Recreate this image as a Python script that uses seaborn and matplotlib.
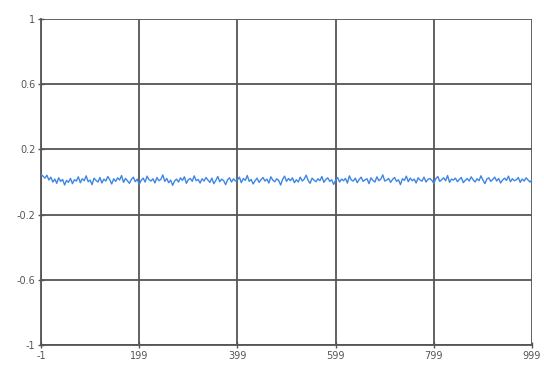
import matplotlib
matplotlib.use("Agg")
import matplotlib.pyplot as plt
import seaborn as sns
import pandas as pd

# Sample positions (every 4th sample from -1 to 999) and the measured signal
sample_index = list(range(-1, 1000, 4))
signal = [
    0.048, 0.036, 0.024, 0.042, 0.012, 0.030, 0.000, 0.018, -0.008, 0.026,
    0.004, 0.016, -0.018, 0.010, -0.002, 0.022, -0.010, 0.014, 0.006, 0.032,
    -0.004, 0.020, 0.008, 0.038, 0.002, 0.012, -0.016, 0.024, 0.010, 0.000,
    0.028, -0.006, 0.018, 0.006, 0.034, 0.014, -0.012, 0.020, 0.004, 0.026,
    0.012, 0.040, -0.002, 0.022, 0.008, -0.008, 0.016, 0.030, 0.002, 0.018,
    -0.014, 0.010, 0.024, 0.000, 0.036, 0.014, 0.006, 0.020, -0.006, 0.028,
    0.008, 0.016, 0.044, 0.004, 0.022, -0.004, 0.012, -0.020, 0.006, 0.018,
    0.000, 0.026, 0.010, 0.032, -0.008, 0.014, 0.022, 0.004, 0.038, 0.008,
    0.016, -0.006, 0.020, 0.006, 0.028, 0.012, -0.002, 0.024, -0.010, 0.010,
    0.034, 0.002, 0.018, 0.008, -0.016, 0.014, 0.026, 0.000, 0.020, 0.006,
    0.012, 0.030, -0.004, 0.022, 0.010, 0.040, 0.004, 0.016, -0.012, 0.008,
    0.024, -0.002, 0.014, 0.028, 0.006, 0.018, -0.006, 0.032, 0.012, 0.002,
    0.020, 0.010, -0.018, 0.016, 0.036, 0.004, 0.022, 0.008, 0.026, -0.004,
    0.014, 0.000, 0.030, 0.006, 0.018, 0.042, 0.010, -0.008, 0.024, 0.012,
    0.002, 0.020, 0.008, 0.034, -0.002, 0.016, 0.026, 0.004, 0.014, -0.014,
    0.010, 0.028, 0.000, 0.018, 0.008, 0.022, -0.006, 0.038, 0.012, 0.006,
    0.024, -0.004, 0.016, 0.030, 0.004, 0.014, 0.020, -0.010, 0.026, 0.010,
    0.000, 0.032, 0.008, 0.018, 0.044, 0.006, 0.012, 0.022, -0.002, 0.016,
    0.028, 0.004, 0.014, -0.016, 0.020, 0.010, 0.036, 0.002, 0.024, 0.008,
    0.018, -0.006, 0.026, 0.012, 0.006, 0.030, 0.000, 0.016, 0.022, 0.010,
    -0.008, 0.020, 0.034, 0.004, 0.014, 0.026, 0.008, 0.040, -0.002, 0.018,
    0.012, 0.024, 0.002, 0.016, 0.028, -0.004, 0.010, 0.022, 0.006, 0.032,
    0.014, 0.000, 0.020, 0.008, 0.038, 0.012, -0.010, 0.018, 0.026, 0.004,
    0.016, 0.030, 0.006, 0.022, -0.006, 0.012, 0.024, 0.010, 0.036, 0.002,
    0.020, 0.008, 0.014, 0.028, -0.002, 0.018, 0.006, 0.026, 0.012, 0.000,
    0.016,
]

x_ticks = [-1, 199, 399, 599, 799, 999]
y_ticks = [-1, -0.6, -0.2, 0.2, 0.6, 1]
y_tick_labels = ["-1", "-0.6", "-0.2", "0.2", "0.6", "1"]

df = pd.DataFrame({"sample": sample_index, "value": signal})

sns.set_theme(style="white")
plt.rcParams["font.family"] = ["DejaVu Sans"]

fig = plt.figure(figsize=(5.44, 3.67), dpi=100)
ax = fig.add_axes([0.0754, 0.060, 0.9026, 0.888])

sns.lineplot(data=df, x="sample", y="value", ax=ax, color="#3f86e4",
             linewidth=1.0, zorder=3)

ax.set_xlim(-1, 999)
ax.set_ylim(-1, 1)
ax.set_xticks(x_ticks)
ax.set_xticklabels([str(t) for t in x_ticks])
ax.set_yticks(y_ticks)
ax.set_yticklabels(y_tick_labels)
ax.set_xlabel("")
ax.set_ylabel("")

ax.grid(True, color="#555555", linewidth=1.3, zorder=1)
ax.set_axisbelow(True)
for side in ["left", "bottom"]:
    ax.spines[side].set_color("#555555")
    ax.spines[side].set_linewidth(1.3)
for side in ["top", "right"]:
    ax.spines[side].set_visible(False)

ax.tick_params(axis="both", which="major", labelsize=7, labelcolor="#555555",
               color="#555555", length=4, width=1.0, direction="inout",
               bottom=True, left=True, pad=2)

fig.savefig("out.png", dpi=100)
